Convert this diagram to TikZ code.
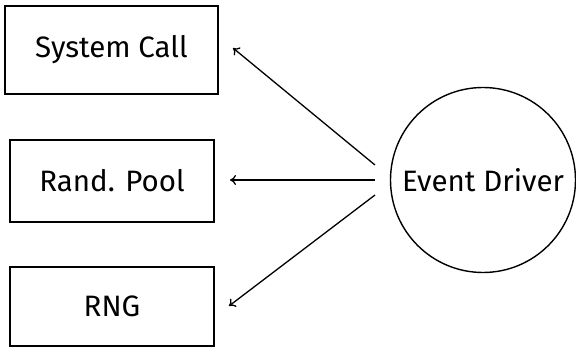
\documentclass[tikz,border=0pt]{standalone}
\usepackage{fontspec}
\setmainfont{Fira Sans}
\usetikzlibrary{arrows.meta}
\begin{document}
\begin{tikzpicture}[x=1pt,y=-1pt,
  box/.style={draw, line width=1.6pt, inner sep=0pt, font=\fontsize{29.5}{32}\selectfont},
  ev/.style={draw, circle, line width=1.4pt, inner sep=0pt, minimum size=185pt, font=\fontsize{29.5}{32}\selectfont},
  conn/.style={line width=1.3pt, -{To[length=6pt,width=10pt]}}]
\useasboundingbox (0,0) rectangle (576,347);
\node[box, minimum width=213pt, minimum height=88pt] (sc) at (111.5,50) {System Call};
\node[box, minimum width=204pt, minimum height=82pt] (rp) at (112,181) {Rand. Pool};
\node[box, minimum width=204pt, minimum height=79pt] (rng) at (112,306.5) {RNG};
\node[ev] (ed) at (483,180) {Event Driver};
\coordinate (s1) at (375,165);
\coordinate (s2) at (375,180);
\coordinate (s3) at (375,195);
\coordinate (t1) at (233,48);
\coordinate (t2) at (230,180);
\coordinate (t3) at (229,306);
\draw[conn] (s1) -- (t1);
\draw[conn] (s2) -- (t2);
\draw[conn] (s3) -- (t3);
\end{tikzpicture}
\end{document}
